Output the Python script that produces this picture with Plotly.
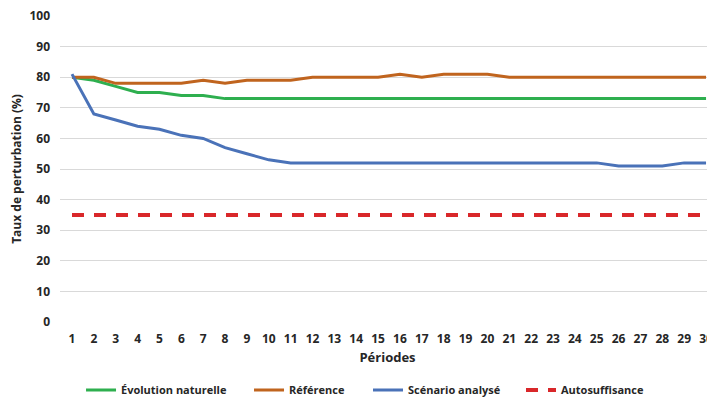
import plotly.graph_objects as go

periodes = list(range(1, 31))
evolution_naturelle = [80, 79, 77, 75, 75, 74, 74, 73, 73, 73, 73, 73, 73, 73, 73,
                       73, 73, 73, 73, 73, 73, 73, 73, 73, 73, 73, 73, 73, 73, 73]
reference = [80, 80, 78, 78, 78, 78, 79, 78, 79, 79, 79, 80, 80, 80, 80,
             81, 80, 81, 81, 81, 80, 80, 80, 80, 80, 80, 80, 80, 80, 80]
scenario_analyse = [81, 68, 66, 64, 63, 61, 60, 57, 55, 53, 52, 52, 52, 52, 52,
                    52, 52, 52, 52, 52, 52, 52, 52, 52, 52, 51, 51, 51, 52, 52]
autosuffisance = [35] * 30
y_ticks = list(range(0, 101, 10))

font_family = "Open Sans, Noto Sans, sans-serif"
txt = "#262626"

fig = go.Figure()
fig.add_trace(go.Scatter(x=periodes, y=evolution_naturelle, mode="lines",
                         name="Évolution naturelle", legend="legend",
                         line=dict(color="#2EAF4F", width=3)))
fig.add_trace(go.Scatter(x=periodes, y=reference, mode="lines",
                         name="Référence", legend="legend2",
                         line=dict(color="#C0641E", width=3)))
fig.add_trace(go.Scatter(x=periodes, y=scenario_analyse, mode="lines",
                         name="Scénario analysé", legend="legend3",
                         line=dict(color="#4A72B8", width=3)))
fig.add_trace(go.Scatter(x=periodes, y=autosuffisance, mode="lines",
                         name="Autosuffisance", legend="legend4",
                         line=dict(color="#D9272A", width=4, dash="12px,10px")))


def legend_at(xfrac):
    return dict(orientation="h", x=xfrac, xanchor="left", xref="container",
                y=0.018, yanchor="middle", yref="container",
                font=dict(size=11, color=txt, weight="bold"),
                bgcolor="rgba(0,0,0,0)")


# The page body has an 8px default margin, so the figure is sized to fit the window.
fig.update_layout(
    width=707, height=389,
    margin=dict(l=52, r=0, t=8, b=75, autoexpand=False),
    paper_bgcolor="white", plot_bgcolor="white",
    font=dict(family=font_family, size=12, color=txt),
    showlegend=True,
    legend=legend_at(0.1033),
    legend2=legend_at(0.3409),
    legend3=legend_at(0.5092),
    legend4=legend_at(0.7256),
    xaxis=dict(
        range=[0.451, 30.41], tickmode="array", tickvals=periodes,
        ticktext=[str(p) for p in periodes],
        showgrid=False, zeroline=False, showline=False, ticks="",
        ticklabelstandoff=8, ticklabeloverflow="allow",
        tickfont=dict(size=12, color=txt, weight="bold"),
        title=dict(text="Périodes", font=dict(size=13, color=txt, weight="bold"), standoff=6),
    ),
    yaxis=dict(
        range=[0, 100], tickmode="array", tickvals=y_ticks,
        showgrid=True, gridcolor="#D9D9D9", gridwidth=1,
        zeroline=False, showline=False, ticks="", ticklabelstandoff=9,
        ticklabeloverflow="allow",
        tickfont=dict(size=12, color=txt, weight="bold"),
        title=dict(text="Taux de perturbation (%)", font=dict(size=12, color=txt, weight="bold"), standoff=8),
    ),
)

fig.write_html("out.html")
